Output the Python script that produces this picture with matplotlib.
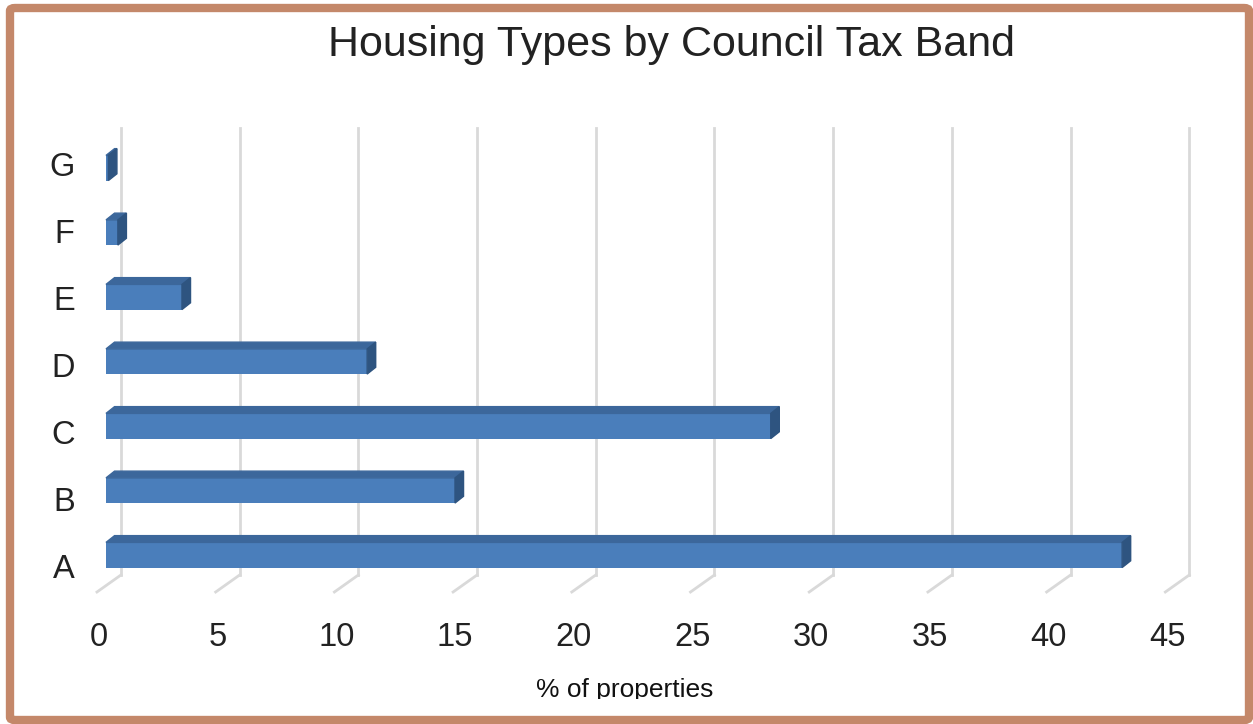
import numpy as np
import matplotlib.pyplot as plt
from matplotlib.patches import Polygon, FancyBboxPatch
from matplotlib.transforms import Bbox

plt.rcParams['font.family'] = ['Liberation Sans', 'DejaVu Sans']

# data
bands = ['A', 'B', 'C', 'D', 'E', 'F', 'G']
share = [42.8, 14.7, 28.0, 11.0, 3.2, 0.5, 0.1]
xticks = np.arange(0, 50, 5)

W, H = 1253, 724
fig = plt.figure(figsize=(W / 100, H / 100), dpi=100)
ax = fig.add_axes([90 / W, (H - 600) / H, 1110 / W, 480 / H])
ax.set_xlim(-0.674, 46.08)
ax.set_ylim(-0.698, 6.744)

# fake 3d look: back wall offset and bar depth (in data units)
back = 0.63
front = -0.3
dx, dy = 0.36, 0.105
h = 0.39
front_col = '#4A7EBB'
top_col = '#3C679B'
side_col = '#2E5480'

# back wall gridlines with the slanted floor marks
for t in xticks:
    ax.plot([t + back, t + back], [-0.31, 6.62], color='#D9D9D9', lw=2, zorder=1)
    ax.plot([t + back, t - 0.38], [-0.31, -0.574], color='#D9D9D9', lw=2, zorder=1)

y = np.arange(len(bands))
ax.barh(y, share, height=h, left=0, color=front_col, zorder=3)
for i, v in zip(y, share):
    top = [(0, i + h / 2), (v, i + h / 2), (v + dx, i + h / 2 + dy), (dx, i + h / 2 + dy)]
    side = [(v, i - h / 2), (v + dx, i - h / 2 + dy), (v + dx, i + h / 2 + dy), (v, i + h / 2)]
    ax.add_patch(Polygon(top, closed=True, color=top_col, zorder=3))
    ax.add_patch(Polygon(side, closed=True, color=side_col, zorder=3))

ax.set_xticks(xticks + front)
ax.set_xticklabels([str(t) for t in xticks], fontsize=23.5, color='#222222')
ax.set_yticks((67 * y - 11) / 64.5)
ax.set_yticklabels(bands, fontsize=23.5, color='#222222')
ax.tick_params(axis='x', length=0, pad=16)
ax.tick_params(axis='y', length=0, pad=11)
for s in ax.spines.values():
    s.set_visible(False)

fig.text(672 / W, 1 - 45 / H, 'Housing Types by Council Tax Band', ha='center', va='center',
         fontsize=31, color='#222222')
xl = fig.text(625 / W, 1 - 690 / H, '% of properties', ha='center', va='center',
              fontsize=19, color='#111111')
xl.set_clip_box(Bbox([[0, H - 699], [W, H]]))
xl.set_clip_on(True)

# brown frame around the whole picture
fig.patches.append(FancyBboxPatch((10 / W, 4 / H), (W - 14) / W, (H - 12) / H,
                                  boxstyle='round,pad=0,rounding_size=0.004',
                                  transform=fig.transFigure, fill=False,
                                  edgecolor='#C4886A', lw=6))

fig.savefig('out.png', dpi=100)
